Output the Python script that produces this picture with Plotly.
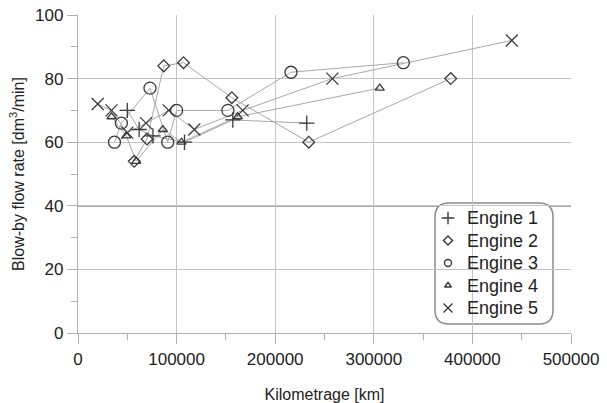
import plotly.graph_objects as go

# Blow-by flow rate per engine over kilometrage
e1_km = [50000, 62000, 76000, 108000, 157000, 232000]
e1_flow = [70, 64, 62, 60, 67, 66]

e2_km = [57000, 70000, 87000, 107000, 156000, 234000, 378000]
e2_flow = [54, 61, 84, 85, 74, 60, 80]

e3_km = [37000, 44000, 73000, 91000, 100000, 152000, 216000, 330000]
e3_flow = [60, 66, 77, 60, 70, 70, 82, 85]

e4_km = [34000, 49000, 59000, 86000, 105000, 162000, 306000]
e4_flow = [68, 62, 54, 64, 60, 68, 77]

e5_km = [20000, 34000, 50000, 69000, 92000, 118000, 167000, 258000, 440000]
e5_flow = [72, 70, 63, 66, 70, 64, 70, 80, 92]

names = ["Engine 1", "Engine 2", "Engine 3", "Engine 4", "Engine 5"]
series = [(e1_km, e1_flow), (e2_km, e2_flow), (e3_km, e3_flow),
          (e4_km, e4_flow), (e5_km, e5_flow)]
symbols = ["cross-thin-open", "diamond-open", "circle-open",
           "triangle-up-open", "x-thin-open"]
sizes = [11, 9, 12, 8, 12]
key_sizes = [9, 7, 7, 6, 9]

MARK = "#3a3a3a"
W, H = 607, 403
L, R, T, B = 78, 36, 15, 70
PW, PH = W - L - R, H - T - B


def px_x(p):
    return (p - L) / PW


def px_y(p):
    return (H - B - p) / PH


fig = go.Figure()

# connecting lines
for (km, flow) in series:
    fig.add_trace(go.Scatter(
        x=km, y=flow, mode="lines",
        line=dict(color="#a8a8a8", width=1),
        showlegend=False, hoverinfo="skip"))

# markers
for (km, flow), name, sym, sz in zip(series, names, symbols, sizes):
    fig.add_trace(go.Scatter(
        x=km, y=flow, mode="markers", name=name, showlegend=False,
        marker=dict(symbol=sym, size=sz, color=MARK,
                    line=dict(color=MARK, width=1.3))))

# darker reference line at 40
fig.add_shape(type="line", xref="paper", yref="y", x0=0, x1=1, y0=40, y1=40,
              line=dict(color="#555555", width=1.2), layer="below")

# rounded key frame (over the grid, under the traces)
x0, x1, y0, y1 = px_x(435), px_x(553), px_y(324), px_y(203)
rx, ry = 14 / PW, 14 / PH
path = (f"M {x0+rx},{y1} L {x1-rx},{y1} Q {x1},{y1} {x1},{y1-ry} "
        f"L {x1},{y0+ry} Q {x1},{y0} {x1-rx},{y0} "
        f"L {x0+rx},{y0} Q {x0},{y0} {x0},{y0+ry} "
        f"L {x0},{y1-ry} Q {x0},{y1} {x0+rx},{y1} Z")
fig.add_shape(type="path", xref="paper", yref="paper", path=path,
              fillcolor="white", line=dict(color="#8a8a8a", width=1.5),
              layer="between")

# key entries: symbol on an overlay axis pair, label as annotation
row_px = [218, 240.5, 263, 285.5, 308]
for name, sym, ks, rp in zip(names, symbols, key_sizes, row_px):
    fig.add_trace(go.Scatter(
        x=[px_x(448)], y=[px_y(rp)], mode="markers", xaxis="x2", yaxis="y2",
        showlegend=False, hoverinfo="skip", cliponaxis=False,
        marker=dict(symbol=sym, size=ks, color=MARK,
                    line=dict(color=MARK, width=1.4))))
    fig.add_annotation(x=px_x(465), y=px_y(rp), xref="paper", yref="paper",
                       text=name, showarrow=False, xanchor="left",
                       yanchor="middle",
                       font=dict(family="Liberation Sans, Arial, sans-serif",
                                 size=18, color="#222222"))

tick_font = dict(family="Liberation Sans, Arial, sans-serif", size=17,
                 color="#222222")
title_font = dict(family="Liberation Sans, Arial, sans-serif", size=16,
                  color="#222222")

fig.update_layout(
    width=W, height=H,
    margin=dict(l=L, r=R, t=T, b=B, autoexpand=False),
    paper_bgcolor="white", plot_bgcolor="white",
    font=tick_font,
    showlegend=False,
    xaxis=dict(
        range=[0, 500000], tickvals=[0, 100000, 200000, 300000, 400000, 500000],
        ticktext=["0", "100000", "200000", "300000", "400000", "500000"],
        automargin=False,
        showgrid=True, gridcolor="#c4c4c4", gridwidth=1.3,
        showline=True, linecolor="#b0b0b0", linewidth=1.3,
        ticks="outside", ticklen=10, tickcolor="#b0b0b0", tickwidth=1.3,
        minor=dict(dtick=50000, ticks="outside", ticklen=6,
                   tickcolor="#b0b0b0", showgrid=False),
        zeroline=False, tickfont=tick_font,
        title=dict(text="Kilometrage [km]", font=title_font, standoff=22),
    ),
    yaxis=dict(
        range=[0, 100], tickvals=[0, 20, 40, 60, 80, 100],
        automargin=False,
        showgrid=True, gridcolor="#c4c4c4", gridwidth=1.3,
        showline=True, linecolor="#b0b0b0", linewidth=1.3,
        ticks="outside", ticklen=10, tickcolor="#b0b0b0", tickwidth=1.3,
        minor=dict(dtick=10, ticks="outside", ticklen=6,
                   tickcolor="#b0b0b0", showgrid=False),
        zeroline=False, tickfont=tick_font,
        title=dict(text="Blow-by flow rate [dm<sup>3</sup>/min]",
                   font=title_font, standoff=6),
    ),
    xaxis2=dict(overlaying="x", range=[0, 1], visible=False, fixedrange=True),
    yaxis2=dict(overlaying="y", range=[0, 1], visible=False, fixedrange=True),
)

fig.write_html("out.html")
